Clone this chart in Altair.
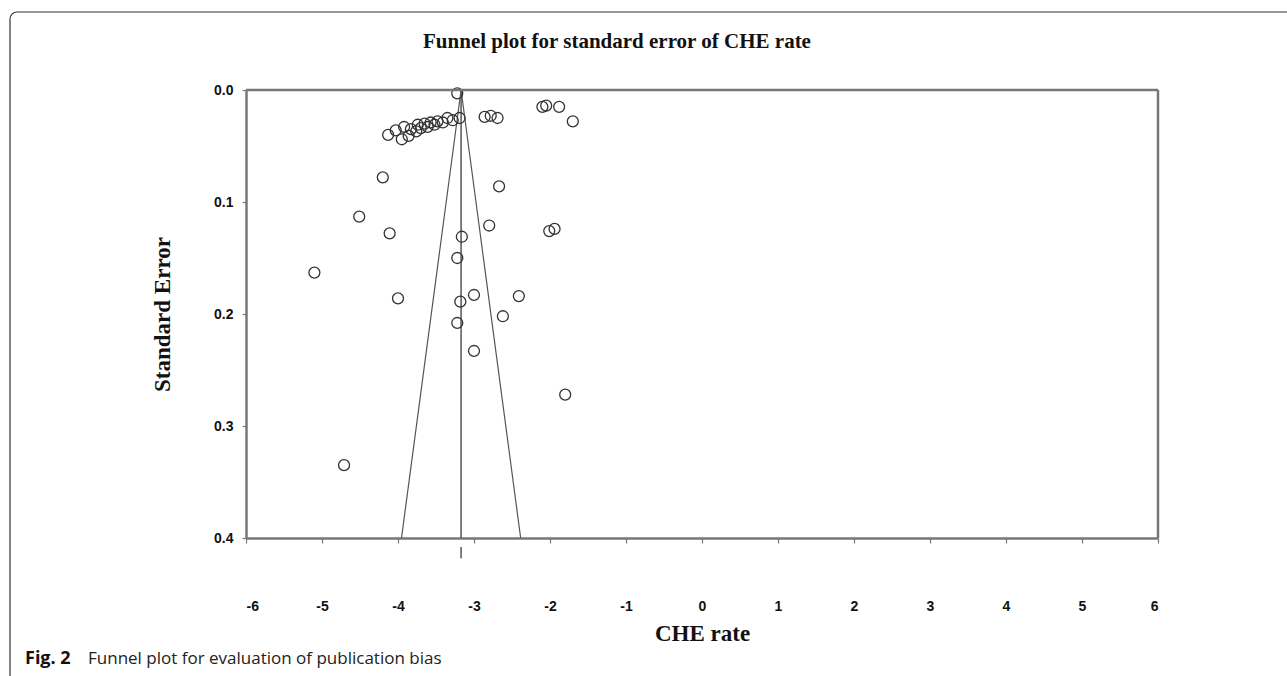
import altair as alt
import pandas as pd

# ---- data ----
che_rate = [
    -3.22,
    -4.13, -4.03, -3.95, -3.92, -3.86, -3.83, -3.76, -3.74, -3.70, -3.65,
    -3.61, -3.57, -3.52, -3.48, -3.41, -3.35, -3.28, -3.19,
    -2.86, -2.78, -2.69,
    -2.10, -2.05, -1.88, -1.70,
    -4.20, -2.67, -4.51, -4.11, -2.80, -3.16, -2.01, -1.94,
    -5.10, -3.22, -4.00, -3.18, -3.00, -2.41, -2.62, -3.22, -3.00,
    -1.80, -4.71,
]
std_err = [
    0.003,
    0.040, 0.036, 0.044, 0.033, 0.041, 0.035, 0.037, 0.031, 0.034, 0.030,
    0.033, 0.029, 0.031, 0.028, 0.029, 0.025, 0.027, 0.025,
    0.024, 0.023, 0.025,
    0.015, 0.014, 0.015, 0.028,
    0.078, 0.086, 0.113, 0.128, 0.121, 0.131, 0.126, 0.124,
    0.163, 0.150, 0.186, 0.189, 0.183, 0.184, 0.202, 0.208, 0.233,
    0.272, 0.335,
]
pooled_mean = -3.17
se_max = 0.4
x_ticks = [-6, -5, -4, -3, -2, -1, 0, 1, 2, 3, 4, 5, 6]
y_ticks = [0.0, 0.1, 0.2, 0.3, 0.4]

title_text = "Funnel plot for standard error of CHE rate"
x_title = "CHE rate"
y_title = "Standard Error"
caption_bold = "Fig. 2"
caption_text = "Funnel plot for evaluation of publication bias"

W, H = 912, 448

pts = pd.DataFrame({"x": che_rate, "y": std_err})
funnel = pd.DataFrame({
    "x": [pooled_mean - 1.96 * se_max, pooled_mean, pooled_mean + 1.96 * se_max],
    "y": [se_max, 0.0, se_max],
})
center = pd.DataFrame({"x": [pooled_mean], "y": [0.0], "y2": [se_max]})
center_mark = pd.DataFrame({"x": [pooled_mean], "y": [0.408], "y2": [0.418]})

xs = alt.Scale(domain=[-6, 6], nice=False, zero=False)
ys = alt.Scale(domain=[0, 0.4], nice=False, reverse=True, zero=False)

x_axis = alt.Axis(
    values=x_ticks, labelExpr="'' + datum.value", title=x_title, grid=False,
    labelFont="Liberation Sans", labelFontWeight="bold", labelFontSize=14,
    labelColor="#111", labelPadding=56, tickSize=5, tickColor="#777", tickWidth=1.2,
    domainColor="#777", domainWidth=2.5,
    titleFont="Liberation Serif", titleFontWeight="bold", titleFontSize=23,
    titleColor="#111", titleX=W / 2, titleY=95, titleBaseline="middle",
)
y_axis = alt.Axis(
    values=y_ticks, format=".1f", title=y_title, grid=False,
    labelFont="Liberation Sans", labelFontWeight="bold", labelFontSize=14,
    labelColor="#111", labelPadding=9, tickSize=4, tickColor="#777", tickWidth=1.2,
    domainColor="#777", domainWidth=2.5,
    titleFont="Liberation Serif", titleFontWeight="bold", titleFontSize=23,
    titleColor="#111", titleX=-84, titleY=H / 2, titleAngle=-90,
    titleAlign="center", titleBaseline="middle",
)

points = alt.Chart(pts).mark_point(
    shape="circle", filled=False, size=120, color="#333", strokeWidth=1.3, opacity=1
).encode(
    x=alt.X("x:Q", scale=xs, axis=x_axis),
    y=alt.Y("y:Q", scale=ys, axis=y_axis),
)

funnel_line = alt.Chart(funnel).mark_line(color="#555", strokeWidth=1.2).encode(
    x=alt.X("x:Q", scale=xs), y=alt.Y("y:Q", scale=ys), order="x:Q"
)

center_line = alt.Chart(center).mark_rule(color="#555", strokeWidth=1.5).encode(
    x=alt.X("x:Q", scale=xs), y=alt.Y("y:Q", scale=ys), y2="y2:Q"
)

center_tick = alt.Chart(center_mark).mark_rule(color="#555", strokeWidth=1.5, clip=False).encode(
    x=alt.X("x:Q", scale=xs), y=alt.Y("y:Q", scale=ys), y2="y2:Q"
)

top_border = alt.Chart(pd.DataFrame({"a": [0]})).mark_rule(color="#777", strokeWidth=2.5).encode(
    x=alt.value(0), x2=alt.value(W), y=alt.value(0)
)
right_border = alt.Chart(pd.DataFrame({"a": [0]})).mark_rule(color="#777", strokeWidth=2.5).encode(
    x=alt.value(W), y=alt.value(0), y2=alt.value(H)
)

title = alt.Chart(pd.DataFrame({"t": [title_text]})).mark_text(
    font="Liberation Serif", fontWeight="bold", fontSize=21, color="#111",
    align="center", baseline="middle"
).encode(x=alt.value(W / 2 - 85), y=alt.value(-48), text="t:N")

cap1 = alt.Chart(pd.DataFrame({"t": [caption_bold]})).mark_text(
    font="Open Sans", fontWeight="bold", fontSize=18, color="#111",
    align="left", baseline="middle"
).encode(x=alt.value(-221), y=alt.value(569), text="t:N")

cap2 = alt.Chart(pd.DataFrame({"t": [caption_text]})).mark_text(
    font="Open Sans", fontSize=17, color="#222",
    align="left", baseline="middle"
).encode(x=alt.value(-158), y=alt.value(569), text="t:N")

frame_top = alt.Chart(pd.DataFrame({"a": [0]})).mark_rule(color="#333", strokeWidth=1.2).encode(
    x=alt.value(-229), x2=alt.value(1287 - 246), y=alt.value(-78)
)
frame_left = alt.Chart(pd.DataFrame({"a": [0]})).mark_rule(color="#333", strokeWidth=1.2).encode(
    x=alt.value(-236), y=alt.value(-71), y2=alt.value(586)
)
frame_corner = alt.Chart(pd.DataFrame({"a": [0]})).mark_arc(
    stroke="#333", strokeWidth=1.2, filled=False, fill="transparent",
    theta=4.712, theta2=6.283, radius=7, radius2=7
).encode(x=alt.value(-229), y=alt.value(-71))

chart = alt.layer(
    funnel_line, center_line, center_tick, points, top_border, right_border,
    title, cap1, cap2, frame_top, frame_left, frame_corner,
).properties(
    width=W, height=H,
    autosize=alt.AutoSizeParams(type="none"),
    padding={"left": 246, "top": 90, "right": 1287 - 246 - W, "bottom": 676 - 90 - H},
).configure_view(stroke=None).configure(background="white")

chart.save("out.html", embed_options={"renderer": "svg", "actions": False})
